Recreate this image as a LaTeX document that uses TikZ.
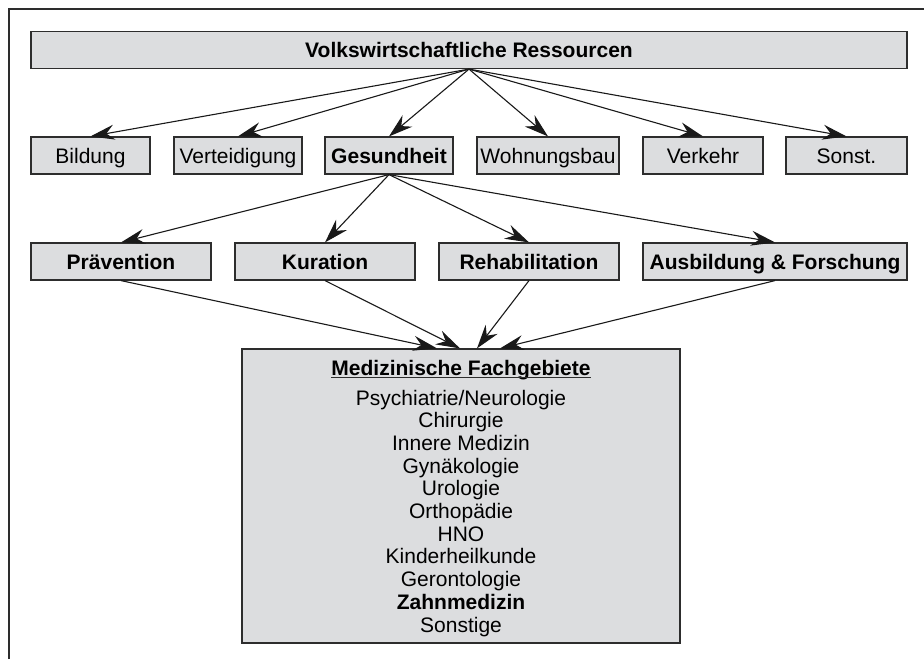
\documentclass[tikz,border=0pt]{standalone}
\usepackage{fontspec}
\setmainfont{Liberation Sans}
\usetikzlibrary{arrows.meta,calc}
\definecolor{boxgray}{RGB}{220,221,223}
\definecolor{edgegray}{RGB}{45,45,45}
\tikzset{arr/.style={line width=1.1pt, draw=black!90, arrows={-Stealth[length=24pt,width=15pt,inset=8pt]}}}
\begin{document}
\begin{tikzpicture}[x=1pt,y=-1pt,
  box/.style={draw=edgegray, line width=1.2pt, fill=boxgray, minimum height=37pt,
    text height=15pt, text depth=0pt, inner sep=0pt, font=\fontsize{21}{25}\selectfont},
  bbox/.style={box, font=\fontsize{21}{25}\selectfont\bfseries},
  listline/.style={anchor=base, inner sep=0pt, font=\fontsize{21}{25}\selectfont}]
\useasboundingbox (0,0) rectangle (924,659);
\fill[white] (0,0) rectangle (924,659);
% outer frame (only top and left visible)
\draw[edgegray, line width=1.6pt] (9,659) -- (9,9) -- (924,9);

% top
\node[bbox, minimum width=876pt] (vr) at (469,50) {Volkswirtschaftliche Ressourcen};

% row 2
\node[box, minimum width=119pt] (bil) at (90.5,155.5) {Bildung};
\node[box, minimum width=128pt] (ver) at (238,155.5) {Verteidigung};
\node[bbox, minimum width=128pt] (ges) at (389,155.5) {Gesundheit};
\node[box, minimum width=142pt] (woh) at (548,155.5) {Wohnungsbau};
\node[box, minimum width=120pt] (vkr) at (703,155.5) {Verkehr};
\node[box, minimum width=121pt] (son) at (846.5,155.5) {Sonst.};

% row 3
\node[bbox, minimum width=180pt] (pra) at (121,261.5) {Prävention};
\node[bbox, minimum width=180pt] (kur) at (325,261.5) {Kuration};
\node[bbox, minimum width=180pt] (reh) at (529,261.5) {Rehabilitation};
\node[bbox, minimum width=264pt] (aus) at (775,261.5) {Ausbildung \& Forschung};

% bottom box
\node[box, minimum width=438pt, minimum height=294pt, text height=0pt] (med) at (461,496) {};
\node[listline, font=\fontsize{21}{25}\selectfont\bfseries] (medt) at (461,375) {Medizinische Fachgebiete};
\draw[edgegray, line width=1.2pt] ($(medt.base west)+(0,2.6)$) -- ($(medt.base east)+(0,2.6)$);
\foreach \t [count=\i] in {Psychiatrie/Neurologie, Chirurgie, Innere Medizin, Gynäkologie,
  Urologie, Orthopädie, HNO, Kinderheilkunde, Gerontologie, {\bfseries Zahnmedizin}, Sonstige}
  \node[listline] (l\i) at (461,{405+(\i-1)*22.7}) {\t};

% arrows top -> row 2
\foreach \n in {bil,ver,ges,woh,vkr,son}
  \draw[arr] (vr.south) -- (\n.north);
% arrows Gesundheit -> row 3
\foreach \n in {pra,kur,reh,aus}
  \draw[arr] (ges.south) -- (\n.north);
% arrows row 3 -> med
\coordinate (m1) at ($(med.north)+(-24,0)$);
\coordinate (m2) at ($(med.north)+(-1,0)$);
\coordinate (m3) at ($(med.north)+(16,0)$);
\coordinate (m4) at ($(med.north)+(39,0)$);
\draw[arr] (pra.south) -- (m1);
\draw[arr] (kur.south) -- (m2);
\draw[arr] (reh.south) -- (m3);
\draw[arr] (aus.south) -- (m4);
\end{tikzpicture}
\end{document}
